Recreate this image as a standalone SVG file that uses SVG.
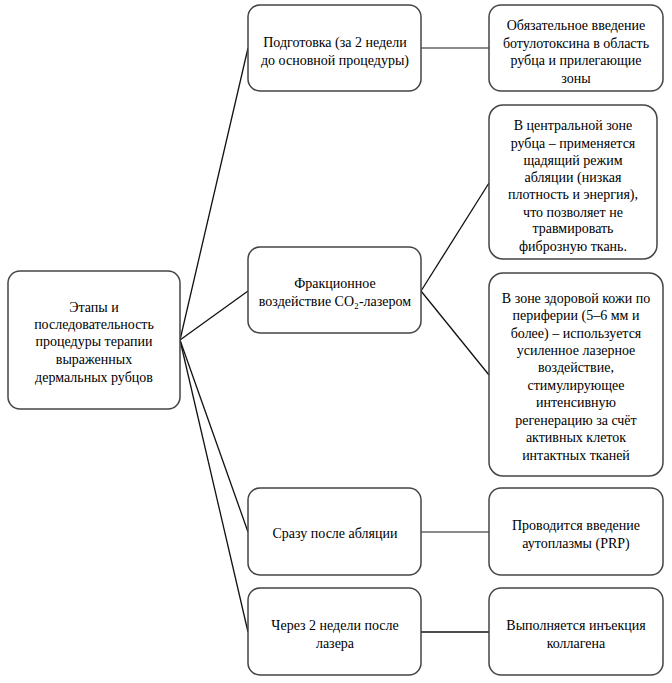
<svg xmlns="http://www.w3.org/2000/svg" width="672" height="683" viewBox="0 0 672 683">
<style>
.box{fill:#fff;stroke:#444;stroke-width:1.5}
.t{font-family:"Liberation Serif","Tinos","Times New Roman","DejaVu Serif",serif;font-size:14px;fill:#000;text-anchor:middle}
.c{stroke:#111;stroke-width:1.3;fill:none}
</style>
<rect width="672" height="683" fill="#fff"/>
<g id="connectors">
<line class="c" x1="180" y1="340" x2="248" y2="48"/>
<line class="c" x1="180" y1="340" x2="248" y2="291"/>
<line class="c" x1="180" y1="340" x2="248" y2="532"/>
<line class="c" x1="180" y1="340" x2="248" y2="632"/>
<line class="c" x1="421" y1="48" x2="489" y2="48" style="stroke:#666"/>
<line class="c" x1="421" y1="291" x2="489" y2="183"/>
<line class="c" x1="421" y1="291" x2="489" y2="375"/>
<line class="c" x1="421" y1="532" x2="489" y2="532" style="stroke:#666"/>
<line class="c" x1="421" y1="632" x2="489" y2="632"/>
</g>
<g id="root">
<rect class="box" x="8" y="271" width="172" height="138" rx="12"/>
<text class="t"><tspan x="94" y="312">Этапы и</tspan><tspan x="94" y="329">последовательность</tspan><tspan x="94" y="346">процедуры терапии</tspan><tspan x="94" y="364">выраженных</tspan><tspan x="94" y="382">дермальных рубцов</tspan></text>
</g>
<g id="prep">
<rect class="box" x="248" y="5" width="173" height="86" rx="12"/>
<text class="t"><tspan x="335" y="47">Подготовка (за 2 недели</tspan><tspan x="335" y="65">до основной процедуры)</tspan></text>
</g>
<g id="prep-detail">
<rect class="box" x="489" y="5" width="174" height="86" rx="12"/>
<text class="t"><tspan x="576" y="30">Обязательное введение</tspan><tspan x="576" y="48">ботулотоксина в область</tspan><tspan x="576" y="65">рубца и прилегающие</tspan><tspan x="576" y="83">зоны</tspan></text>
</g>
<g id="laser">
<rect class="box" x="248" y="247" width="173" height="86" rx="12"/>
<text class="t"><tspan x="335" y="288">Фракционное</tspan><tspan x="335" y="306">воздействие CO₂-лазером</tspan></text>
</g>
<g id="laser-center">
<rect class="box" x="489" y="105" width="168" height="154" rx="14"/>
<text class="t"><tspan x="573" y="130">В центральной зоне</tspan><tspan x="573" y="148">рубца – применяется</tspan><tspan x="573" y="165">щадящий режим</tspan><tspan x="573" y="182">абляции (низкая</tspan><tspan x="573" y="199">плотность и энергия),</tspan><tspan x="573" y="217">что позволяет не</tspan><tspan x="573" y="233">травмировать</tspan><tspan x="573" y="251">фиброзную ткань.</tspan></text>
</g>
<g id="laser-periphery">
<rect class="box" x="489" y="273" width="174" height="203" rx="14"/>
<text class="t"><tspan x="576" y="303">В зоне здоровой кожи по</tspan><tspan x="576" y="320">периферии (5–6 мм и</tspan><tspan x="576" y="338">более) – используется</tspan><tspan x="576" y="355">усиленное лазерное</tspan><tspan x="576" y="372">воздействие,</tspan><tspan x="576" y="390">стимулирующее</tspan><tspan x="576" y="407">интенсивную</tspan><tspan x="576" y="425">регенерацию за счёт</tspan><tspan x="576" y="442">активных клеток</tspan><tspan x="576" y="460">интактных тканей</tspan></text>
</g>
<g id="after">
<rect class="box" x="248" y="488" width="173" height="87" rx="12"/>
<text class="t"><tspan x="335" y="538">Сразу после абляции</tspan></text>
</g>
<g id="after-detail">
<rect class="box" x="489" y="488" width="174" height="87" rx="12"/>
<text class="t"><tspan x="576" y="530">Проводится введение</tspan><tspan x="576" y="548">аутоплазмы (PRP)</tspan></text>
</g>
<g id="twoweeks">
<rect class="box" x="248" y="588" width="173" height="87" rx="12"/>
<text class="t"><tspan x="335" y="630">Через 2 недели после</tspan><tspan x="335" y="648">лазера</tspan></text>
</g>
<g id="twoweeks-detail">
<rect class="box" x="489" y="588" width="174" height="87" rx="12"/>
<text class="t"><tspan x="576" y="630">Выполняется инъекция</tspan><tspan x="576" y="648">коллагена</tspan></text>
</g>
</svg>
